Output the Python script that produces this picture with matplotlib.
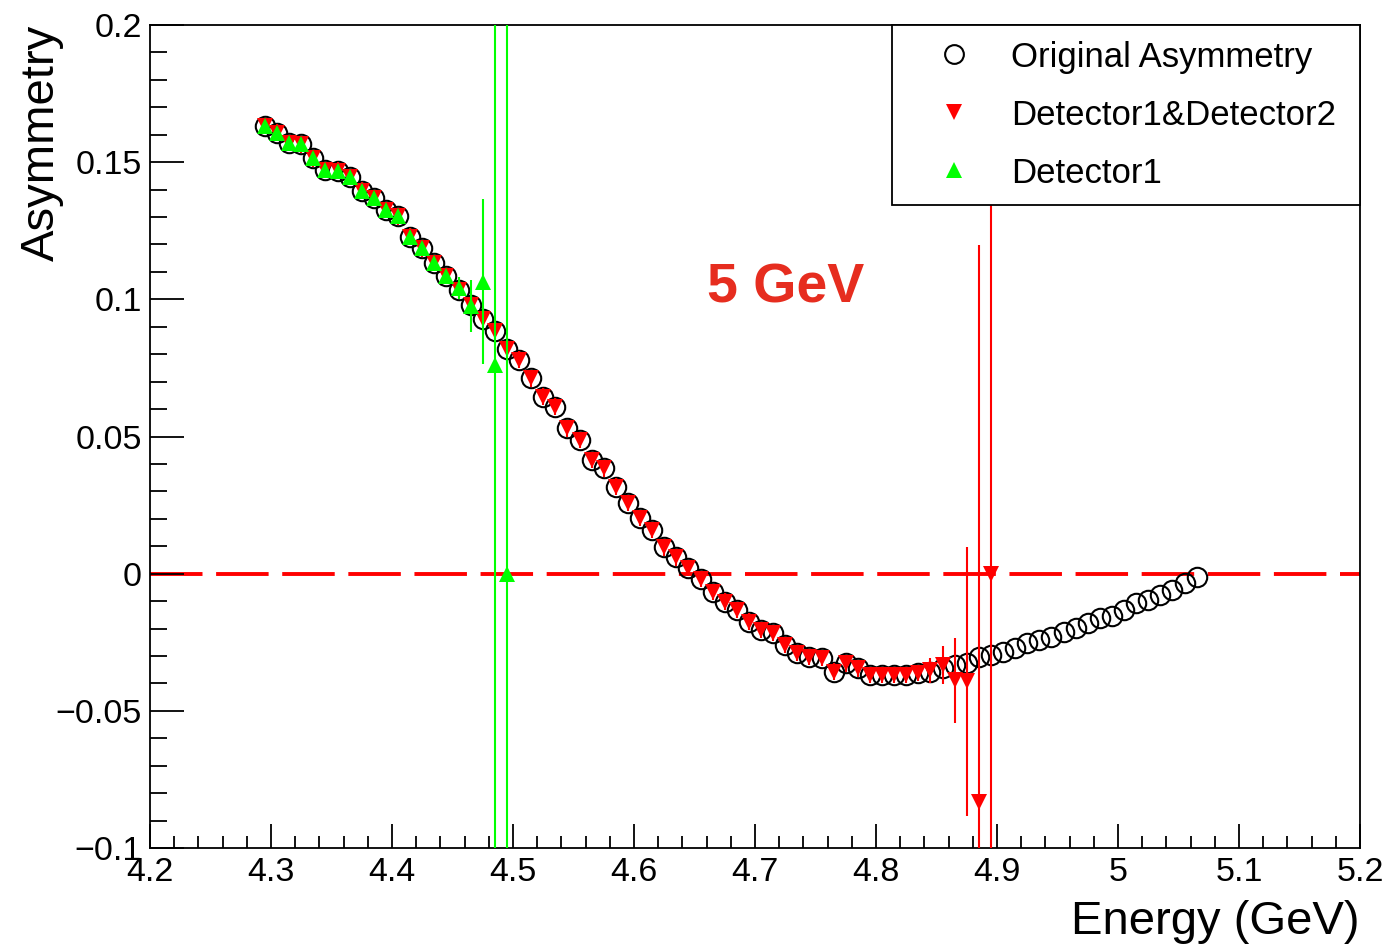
import matplotlib
matplotlib.use("Agg")
import matplotlib.pyplot as plt
from matplotlib.lines import Line2D
from matplotlib.ticker import MultipleLocator, FuncFormatter

plt.rcParams['font.family'] = ['Liberation Sans', 'DejaVu Sans']

# energy bins (GeV)
energy = [4.295, 4.305, 4.315, 4.325, 4.335, 4.345, 4.355, 4.365, 4.375, 4.385,
          4.395, 4.405, 4.415, 4.425, 4.435, 4.445, 4.455, 4.465, 4.475, 4.485,
          4.495, 4.505, 4.515, 4.525, 4.535, 4.545, 4.555, 4.565, 4.575, 4.585,
          4.595, 4.605, 4.615, 4.625, 4.635, 4.645, 4.655, 4.665, 4.675, 4.685,
          4.695, 4.705, 4.715, 4.725, 4.735, 4.745, 4.755, 4.765, 4.775, 4.785,
          4.795, 4.805, 4.815, 4.825, 4.835, 4.845, 4.855, 4.865, 4.875, 4.885,
          4.895, 4.905, 4.915, 4.925, 4.935, 4.945, 4.955, 4.965, 4.975, 4.985,
          4.995, 5.005, 5.015, 5.025, 5.035, 5.045, 5.055, 5.065]

asym_orig = [0.1632, 0.1608, 0.1569, 0.1565, 0.1514, 0.1472, 0.1469, 0.1445, 0.1396, 0.1369,
             0.1326, 0.1302, 0.1229, 0.1186, 0.1132, 0.1085, 0.1034, 0.0980, 0.0928, 0.0885,
             0.0819, 0.0780, 0.0712, 0.0645, 0.0609, 0.0530, 0.0487, 0.0415, 0.0384, 0.0317,
             0.0257, 0.0202, 0.0159, 0.0096, 0.0059, 0.0020, -0.0020, -0.0066, -0.0102, -0.0132,
             -0.0175, -0.0205, -0.0217, -0.0260, -0.0290, -0.0303, -0.0308, -0.0357, -0.0327, -0.0345,
             -0.0369, -0.0369, -0.0369, -0.0369, -0.0363, -0.0357, -0.0345, -0.0333, -0.0324, -0.0305,
             -0.0296, -0.0284, -0.0270, -0.0252, -0.0242, -0.0230, -0.0211, -0.0199, -0.0181, -0.0163,
             -0.0155, -0.0132, -0.0108, -0.0096, -0.0078, -0.0059, -0.0035, -0.0011]

# Detector1&Detector2 (first 61 bins)
asym_d12 = [0.1632, 0.1608, 0.1569, 0.1565, 0.1514, 0.1472, 0.1469, 0.1445, 0.1396, 0.1369,
            0.1326, 0.1302, 0.1229, 0.1186, 0.1132, 0.1085, 0.1034, 0.0980, 0.0928, 0.0885,
            0.0819, 0.0780, 0.0712, 0.0645, 0.0609, 0.0530, 0.0487, 0.0415, 0.0384, 0.0317,
            0.0257, 0.0202, 0.0159, 0.0096, 0.0059, 0.0020, -0.0020, -0.0066, -0.0102, -0.0132,
            -0.0175, -0.0205, -0.0217, -0.0260, -0.0290, -0.0303, -0.0308, -0.0357, -0.0327, -0.0345,
            -0.0369, -0.0369, -0.0369, -0.0369, -0.0363, -0.0352, -0.0333, -0.0388, -0.0392, -0.0833,
            0.0000]
err_d12 = [0.003] * 55 + [0.0045, 0.0068, 0.0155, 0.049, 0.203, 0.40]

# Detector1 (first 21 bins)
asym_d1 = [0.1632, 0.1608, 0.1569, 0.1565, 0.1514, 0.1472, 0.1469, 0.1445, 0.1396, 0.1369,
           0.1326, 0.1302, 0.1229, 0.1186, 0.1132, 0.1085, 0.1040, 0.0975, 0.1065, 0.0761,
           0.0000]
err_d1 = [0.002] * 16 + [0.004, 0.0095, 0.030, 0.50, 0.50]

RED = '#ff0000'
GREEN = '#00ff00'

fig = plt.figure(figsize=(13.92, 9.46), dpi=100)
ax = fig.add_axes([0.10776, 0.10359, 0.86925, 0.86998])

ax.axhline(0, color=RED, lw=2.8, dashes=(13.5, 3.5), zorder=1)

ax.plot(energy, asym_orig, ls='none', marker='o', ms=14, mfc='none', mec='black',
        mew=1.5, zorder=3)

n12 = len(asym_d12)
ax.errorbar(energy[:n12], asym_d12, yerr=err_d12, fmt='none', ecolor=RED,
            elinewidth=1.5, capsize=0, zorder=4)
ax.plot(energy[:n12], asym_d12, ls='none', marker='v', ms=12, color=RED, mew=0, zorder=4.1)

n1 = len(asym_d1)
ax.errorbar(energy[:n1], asym_d1, yerr=err_d1, fmt='none', ecolor=GREEN,
            elinewidth=1.5, capsize=0, zorder=5)
ax.plot(energy[:n1], asym_d1, ls='none', marker='^', ms=12, color=GREEN, mew=0, zorder=5.1)

ax.set_xlim(4.2, 5.2)
ax.set_ylim(-0.1, 0.2)

ax.xaxis.set_major_locator(MultipleLocator(0.1))
ax.xaxis.set_minor_locator(MultipleLocator(0.02))
ax.yaxis.set_major_locator(MultipleLocator(0.05))
ax.yaxis.set_minor_locator(MultipleLocator(0.01))
fmt = FuncFormatter(lambda v, p: ('%g' % round(v, 4)).replace('-', '\u2212'))
ax.xaxis.set_major_formatter(fmt)
ax.yaxis.set_major_formatter(fmt)

ax.tick_params(axis='both', which='both', direction='in', top=False, right=False,
               width=1.3, labelsize=24.5, colors='black')
ax.tick_params(axis='x', which='major', length=17.3, pad=6.5)
ax.tick_params(axis='x', which='minor', length=8.6)
ax.tick_params(axis='y', which='major', length=24.5, pad=6)
ax.tick_params(axis='y', which='minor', length=12.2)
for s in ax.spines.values():
    s.set_linewidth(1.3)

ax.set_xlabel('Energy (GeV)', fontsize=34, loc='right')
ax.xaxis.set_label_coords(1.0, -0.0635)
ax.set_ylabel('Asymmetry', fontsize=34, loc='top')
ax.yaxis.set_label_coords(-0.0715, 1.0)

ax.text(4.725, 0.104, '5 GeV', color='#e62d1f', fontsize=40, fontweight='bold',
        ha='center', va='center')

handles = [
    Line2D([], [], ls='none', marker='o', ms=13.5, mfc='none', mec='black', mew=1.5),
    Line2D([], [], ls='none', marker='v', ms=12, color=RED, mew=0),
    Line2D([], [], ls='none', marker='^', ms=12, color=GREEN, mew=0),
]
labels = ['Original Asymmetry', 'Detector1&Detector2', 'Detector1']
leg = ax.legend(handles, labels, loc='upper left',
                bbox_to_anchor=(0.6132, 0.7849, 0.3868, 0.2151), mode='expand',
                borderaxespad=0, fontsize=25, frameon=True, fancybox=False,
                edgecolor='black', framealpha=1, borderpad=0.45,
                labelspacing=0.72, handlelength=2.7, handletextpad=0.28)
leg.get_frame().set_linewidth(1.3)
leg.set_zorder(10)

fig.savefig('out.png', dpi=100)
